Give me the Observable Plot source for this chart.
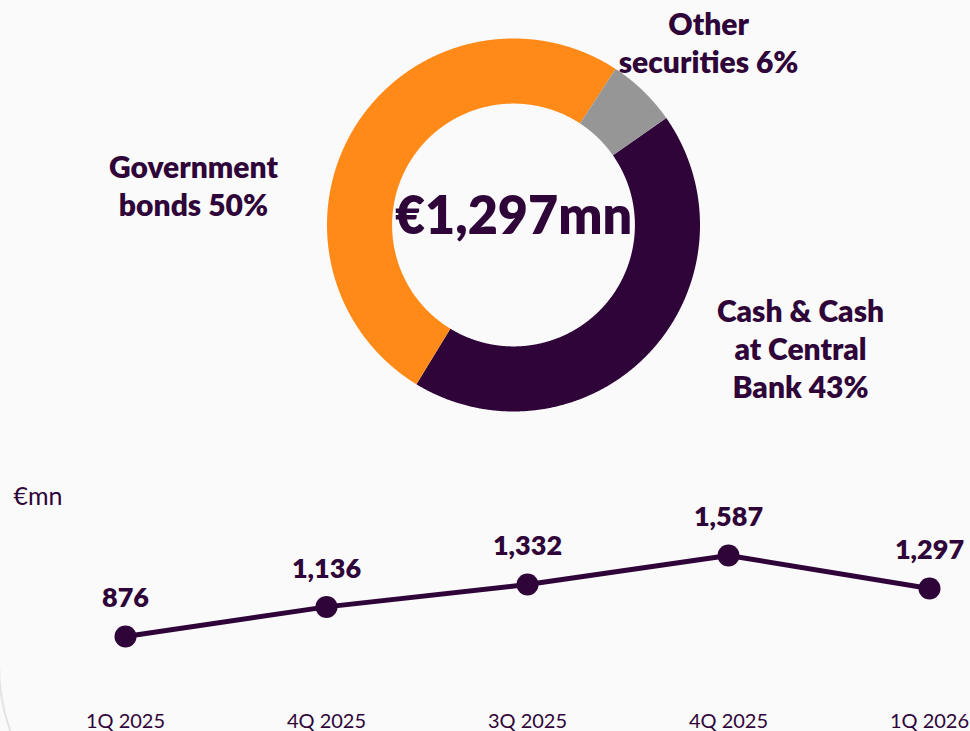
<!DOCTYPE html>
<html><head><meta charset="utf-8">
<script src="https://cdn.jsdelivr.net/npm/d3@7"></script>
<script src="https://cdn.jsdelivr.net/npm/@observablehq/plot@0.6"></script>
<style>
html,body{margin:0;padding:0;background:#fafafa;overflow:hidden;}
#wrap{position:relative;width:970px;height:731px;overflow:hidden;background:#fafafa;font-family:Lato,sans-serif;}
#panel{position:absolute;left:-2px;top:-10px;width:1200px;height:875px;border:2px solid #e4e4e4;border-bottom-left-radius:200px;box-sizing:border-box;}
#donut{position:absolute;left:0;top:0;}
#line{position:absolute;left:0;top:440px;}
</style></head>
<body><div id="wrap"><div id="panel"></div><div id="donut"></div><div id="line"></div></div>
<script>
// ---- data ----
const categories = ["Cash & Cash at Central Bank", "Government bonds", "Other securities"];
const shares = [43, 50, 6];
const sliceLabels = ["Cash & Cash\nat Central\nBank 43%", "Government\nbonds 50%", "Other\nsecurities 6%"];
const sliceColors = ["#2f0439", "#ff8a17", "#969696"];
const totalLabel = "€1,297mn";

const quarters = ["1Q 2025", "4Q 2025", "3Q 2025", "4Q 2025", "1Q 2026"];
const liquidity = [876, 1136, 1332, 1587, 1297];
const valueLabels = ["876", "1,136", "1,332", "1,587", "1,297"];
const unitLabel = "€mn";

// ---- layout ----
const PURPLE = "#2f0439";
const FONT = "Lato, 'Open Sans', sans-serif";
const INNER = 0.651;
const START = 55 * Math.PI / 180;
const labelAt = [[1.539, 0.659], [-1.716, -0.215], [1.046, -0.982]];
const centerAt = [0, -0.043];

const pie = d3.pie().sort(null).value(d => d).startAngle(START).endAngle(START + 2 * Math.PI);
const arcs = pie(shares);
function ring(a0, a1) {
  const n = Math.max(8, Math.ceil((a1 - a0) / 0.005));
  const pts = [];
  for (let i = 0; i <= n; i++) { const a = a0 + (a1 - a0) * i / n; pts.push([Math.sin(a), -Math.cos(a)]); }
  for (let i = n; i >= 0; i--) { const a = a0 + (a1 - a0) * i / n; pts.push([INNER * Math.sin(a), -INNER * Math.cos(a)]); }
  pts.push(pts[0]);
  return pts;
}
const features = arcs.map((a, i) => ({
  type: "Feature", properties: {cat: categories[i]},
  geometry: {type: "Polygon", coordinates: [ring(a.startAngle, a.endAngle)]}
}));
const frameDomain = {type: "Polygon", coordinates: [[[-1, -1], [1, -1], [1, 1], [-1, 1], [-1, -1]]]};
const labelRows = categories.map((c, i) => ({cat: c, text: sliceLabels[i], x: labelAt[i][0], y: labelAt[i][1]}));

const donut = Plot.plot({
  width: 970, height: 440,
  marginLeft: 326.5, marginRight: 270.5, marginTop: 38, marginBottom: 29,
  projection: {type: "identity", domain: frameDomain, clip: false},
  color: {domain: categories, range: sliceColors},
  style: {background: "transparent", fontFamily: FONT, color: PURPLE, overflow: "visible"},
  marks: [
    Plot.geo(features, {fill: d => d.properties.cat, stroke: "none"}),
    Plot.text(labelRows, {x: "x", y: "y", text: "text", fontSize: 30, fontWeight: 800, lineHeight: 1.27, fill: PURPLE, textAnchor: "middle"}),
    Plot.text([totalLabel], {x: () => centerAt[0], y: () => centerAt[1], text: d => d, fontSize: 52, fontWeight: 800, fill: PURPLE})
  ]
});
document.getElementById("donut").appendChild(donut);

const idx = d3.range(quarters.length);
const line = Plot.plot({
  width: 970, height: 291,
  marginLeft: 124, marginRight: 40, marginTop: 0, marginBottom: 18,
  x: {type: "point", domain: idx, padding: 0, axis: null},
  y: {domain: [876, 1587], range: [196, 115], axis: null},
  style: {background: "transparent", fontFamily: FONT, color: PURPLE, overflow: "visible"},
  marks: [
    Plot.line(idx, {x: i => i, y: i => liquidity[i], stroke: PURPLE, strokeWidth: 5}),
    Plot.dot(idx, {x: i => i, y: i => liquidity[i], r: 11, fill: PURPLE, stroke: "none"}),
    Plot.text(idx, {x: i => i, y: i => liquidity[i], text: i => valueLabels[i], dy: -38, fontSize: 27, fontWeight: 800, fill: PURPLE}),
    Plot.axisX({tickSize: 0, tickPadding: 0, fontSize: 20, tickFormat: i => quarters[i], fill: PURPLE}),
    Plot.text([unitLabel], {frameAnchor: "top-left", text: d => d, dx: -111, dy: 47, textAnchor: "start", fontSize: 25, fill: PURPLE})
  ]
});
document.getElementById("line").appendChild(line);
</script>
</body></html>
